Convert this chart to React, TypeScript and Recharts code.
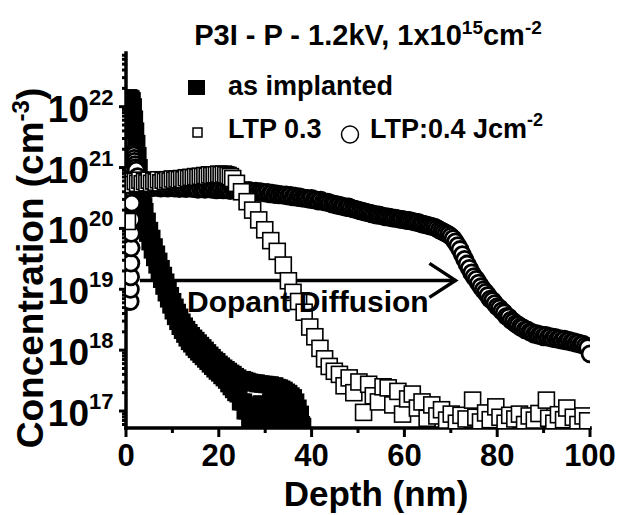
import React from 'react';
import { ScatterChart, Scatter, XAxis, YAxis, ReferenceLine, ReferenceDot } from 'recharts';

const FONT = '"Liberation Sans", Arial, Helvetica, sans-serif';
const INK = '#000';

// ---- SIMS phosphorus profiles: depth (nm) and concentration (cm^-3) ----

// as implanted
const implantedDepth = [
  0, 0.25, 0.5, 0.75, 1, 1.25, 1.5, 1.75, 2, 2.25,
  2.5, 2.75, 3, 3.25, 3.5, 3.75,
  4, 4.25, 4.5, 4.75, 5, 5.25, 5.5, 5.75, 6, 6.25, 6.5, 6.75, 7, 7.25, 7.5, 7.75,
  8, 8.25, 8.5, 8.75, 9, 9.25, 9.5, 9.75, 10, 10.25, 10.5, 10.75, 11, 11.25, 11.5, 11.75,
  12, 12.25, 12.5, 12.75, 13, 13.25, 13.5, 13.75, 14, 14.25, 14.5, 14.75, 15, 15.25, 15.5, 15.75,
  16, 16.25, 16.5, 16.75, 17, 17.25, 17.5, 17.75, 18, 18.25, 18.5, 18.75, 19, 19.25, 19.5, 19.75,
  20, 20.25, 20.5, 20.75, 21, 21.25, 21.5, 21.75, 22, 22.25, 22.5, 22.75, 23, 23.25, 23.5, 23.75,
  24, 24.25, 24.5, 24.75, 25, 25.25, 25.5, 25.75, 26, 26.25, 26.5, 26.75, 27, 27.25, 27.5, 27.75,
  28, 28.25, 28.5, 28.75, 29, 29.25, 29.5, 29.75, 30, 30.25, 30.5, 30.75, 31, 31.25, 31.5, 31.75,
  32, 32.25, 32.5, 32.75, 33, 33.25, 33.5, 33.75, 34, 34.25, 34.5, 34.75, 35, 35.25, 35.5, 35.75,
  36, 36.25, 36.5, 36.75, 37, 37.25, 37.5, 37.75, 38, 38.5,
];
const implantedConc = [
  1.32e22, 1.38e22, 1.41e22, 1.38e22, 1.35e22, 1.26e22, 1.0e22, 6.3e21, 4.0e21, 2.5e21,
  1.58e21, 1.0e21, 6.3e20, 4.2e20, 3.0e20, 2.35e20,
  1.9e20, 1.2e20, 1.32e20, 8.3e19, 9.3e19, 6.0e19, 6.9e19, 4.4e19, 5.0e19, 3.3e19, 3.8e19, 2.5e19, 2.9e19, 1.9e19, 2.2e19, 1.45e19,
  1.7e19, 1.12e19, 1.32e19, 8.7e18, 1.0e19, 6.9e18, 7.9e18, 5.5e18, 6.3e18, 4.4e18, 5.1e18, 3.55e18, 4.2e18, 2.95e18, 3.5e18, 2.45e18,
  2.9e18, 2.1e18, 2.5e18, 1.82e18, 2.2e18, 1.58e18, 1.95e18, 1.38e18, 1.74e18, 1.26e18, 1.58e18, 1.12e18, 1.45e18, 1.02e18, 1.32e18, 9.3e17,
  1.2e18, 8.5e17, 1.1e18, 7.8e17, 1.0e18, 7.1e17, 9.1e17, 6.5e17, 8.3e17, 5.9e17, 7.6e17, 5.4e17, 6.9e17, 4.9e17, 6.5e17, 4.5e17,
  5.9e17, 4.2e17, 5.5e17, 3.8e17, 5.1e17, 3.5e17, 4.8e17, 3.2e17, 4.5e17, 2.8e17, 4.2e17, 2.5e17, 4.0e17, 2.24e17, 3.7e17, 2.0e17,
  3.5e17, 1.9e17, 3.3e17, 1.41e17, 3.3e17, 1.41e17, 3.2e17, 1.0e17, 3.1e17, 1.0e17, 3.0e17, 7.1e16, 2.95e17, 1.26e17, 2.9e17, 6.3e16,
  2.9e17, 1.12e17, 2.8e17, 6.6e16, 2.8e17, 1.32e17, 2.75e17, 7.9e16, 2.75e17, 1.2e17, 2.7e17, 6.3e16, 2.7e17, 1.41e17, 2.6e17, 7.1e16,
  2.6e17, 1.12e17, 2.45e17, 6.3e16, 2.4e17, 1.26e17, 2.3e17, 7.1e16, 2.2e17, 1.12e17, 2.05e17, 6.3e16, 1.95e17, 1.0e17, 1.78e17, 6.6e16,
  1.66e17, 8.9e16, 1.41e17, 6.3e16, 1.12e17, 7.9e16, 8.9e16, 6.0e16, 5.6e16, 4.0e16,
];

// LTP 0.3 J/cm2
const ltp03Depth = [
  0.3, 0.5, 1, 1.5, 2, 2.5, 3, 3.5, 4, 4.5,
  5, 5.5, 6, 6.5, 7, 7.5, 8, 8.5, 9, 9.5,
  10, 10.5, 11, 11.5, 12, 12.5, 13, 13.5, 14, 14.5,
  15, 15.5, 16, 16.5, 17, 17.5, 18, 18.5, 19, 19.5,
  20, 20.5, 21, 21.5, 22, 22.5, 23, 23.8, 24.9, 26.1,
  27.3, 28.6, 29.9, 31.2, 32.6, 33.9, 35, 36, 37.2, 38.4,
  39.6, 40.7, 41.8, 42.8, 43.8, 44.9, 46, 47, 48.1, 49.1,
  50.2, 51.2, 52.3, 53.3, 54.4, 55.4, 56.5, 57.5, 58.6, 59.6,
  60.7, 61.7, 62.8, 63.8, 64.9, 65.9, 67, 68, 69.1, 70.1,
  71.2, 72.2, 73.3, 74.7, 75.4, 76.4, 77.5, 78.5, 79.7, 80.6,
  81.7, 82.7, 83.8, 84.8, 85.9, 86.9, 88, 89, 90.6, 91.1,
  92.2, 93.2, 94.3, 95, 96.4, 97.4, 98.5, 99.5,
];
const ltp03Conc = [
  1.3e20, 5.5e20, 6.0e20, 5.25e20, 5.9e20, 5.5e20, 6.2e20, 5.4e20, 5.9e20, 5.6e20,
  6.2e20, 5.5e20, 6.0e20, 5.75e20, 6.3e20, 5.6e20, 6.2e20, 5.9e20, 6.3e20, 6.0e20,
  6.5e20, 6.2e20, 6.5e20, 6.3e20, 6.6e20, 6.3e20, 6.8e20, 6.6e20, 6.9e20, 6.8e20,
  7.1e20, 6.9e20, 7.2e20, 7.1e20, 7.4e20, 7.2e20, 7.6e20, 7.4e20, 7.6e20, 7.6e20,
  7.8e20, 7.6e20, 7.8e20, 7.6e20, 7.4e20, 7.1e20, 6.6e20, 5.5e20, 4.0e20, 2.75e20,
  2.0e20, 1.38e20, 9.5e19, 6.3e19, 4.2e19, 2.5e19, 1.38e19, 8.9e18, 6.3e18, 4.2e18,
  2.4e18, 1.66e18, 1.07e18, 7.2e17, 5.4e17, 4.5e17, 4.0e17, 2.6e17, 3.5e17, 2.0e17,
  3.0e17, 9.5e16, 2.75e17, 1.78e17, 1.41e17, 2.5e17, 2.4e17, 1.26e17, 2.1e17, 8.9e16,
  1.58e17, 1.9e17, 1.12e17, 1.41e17, 7.6e16, 1.26e17, 8.3e16, 1.05e17, 7.1e16, 8.9e16,
  6.3e16, 8.5e16, 7.4e16, 1.51e17, 7.9e16, 6.6e16, 9.3e16, 7.2e16, 1.17e17, 7.9e16,
  6.3e16, 8.5e16, 7.4e16, 8.9e16, 6.0e16, 8.3e16, 7.1e16, 9.1e16, 1.51e17, 7.6e16,
  6.3e16, 8.7e16, 7.2e16, 1.12e17, 7.9e16, 6.0e16, 8.3e16, 6.9e16,
];

// LTP 0.4 J/cm2
const ltp04Depth = [
  0.9, 0.95, 1, 1.05, 1.1, 1.15, 1.2, 1.25, 1.35, 1.45, 1.55, 1.65, 1.75, 1.85, 1.95, 2.05, 2.2, 2.5,
  3, 3.5, 4, 4.5, 5, 5.5, 6, 6.5, 7, 7.5,
  8, 8.5, 9, 9.5, 10, 10.5, 11, 11.5, 12, 12.5,
  13, 13.5, 14, 14.5, 15, 15.5, 16, 16.5, 17, 17.5,
  18, 18.5, 19, 19.5, 20, 20.5, 21, 21.5, 22, 22.5,
  23, 23.5, 24, 24.5, 25, 25.5, 26, 26.5, 27, 27.5,
  28, 28.5, 29, 29.5, 30, 30.5, 31, 31.5, 32, 32.5,
  33, 33.5, 34, 34.5, 35, 35.5, 36, 36.5, 37, 37.5,
  38, 38.5, 39, 39.5, 40, 40.5, 41, 41.5, 42, 42.5,
  43, 43.5, 44, 44.5, 45, 45.5, 46, 46.5, 47, 47.5,
  48, 48.5, 49, 49.5, 50, 50.5, 51, 51.5, 52, 52.5,
  53, 53.5, 54, 54.5, 55, 55.5, 56, 56.5, 57, 57.5,
  58, 58.5, 59, 59.5, 60, 60.5, 61, 61.5, 62, 62.5,
  63, 63.5, 64, 64.5, 65, 65.5, 66, 66.5, 67, 67.5,
  68, 68.5, 69, 69.5, 70, 70.5, 71, 71.5, 72, 72.5,
  73, 73.5, 74, 74.5, 75, 75.5, 76, 76.5, 77, 77.5,
  78, 78.5, 79, 79.5, 80, 80.5, 81, 81.5, 82, 82.5,
  83, 83.5, 84, 84.5, 85, 85.5, 86, 86.5, 87, 87.5,
  88, 88.5, 89, 89.5, 90, 90.5, 91, 91.5, 92, 92.5,
  93, 93.5, 94, 94.5, 95, 95.5, 96, 96.5, 97, 97.5,
  98, 98.5, 99, 99.5, 100,
];
const ltp04Conc = [
  6.3e18, 1.0e19, 1.6e19, 2.7e19, 4.8e19, 8.3e19, 1.4e20, 2.6e20, 5.0e20, 1.0e21, 1.74e21, 1.6e21, 1.41e21, 1.26e21, 1.12e21, 1.0e21, 9.1e20, 7.1e20,
  4.8e20, 4.7e20, 4.9e20, 4.8e20, 4.6e20, 4.8e20, 4.7e20, 4.9e20, 4.7e20, 4.6e20,
  4.8e20, 4.7e20, 4.6e20, 4.8e20, 4.7e20, 4.6e20, 4.7e20, 4.5e20, 4.7e20, 4.6e20,
  4.5e20, 4.7e20, 4.6e20, 4.5e20, 4.6e20, 4.4e20, 4.6e20, 4.5e20, 4.4e20, 4.6e20,
  4.5e20, 4.4e20, 4.5e20, 4.3e20, 4.4e20, 4.5e20, 4.3e20, 4.4e20, 4.3e20, 4.2e20,
  4.4e20, 4.3e20, 4.2e20, 4.3e20, 4.1e20, 4.2e20, 4.1e20, 4.2e20, 4.1e20, 4.0e20,
  4.1e20, 3.9e20, 4.0e20, 3.9e20, 3.8e20, 3.9e20, 3.7e20, 3.8e20, 3.6e20, 3.7e20,
  3.55e20, 3.6e20, 3.5e20, 3.55e20, 3.4e20, 3.5e20, 3.3e20, 3.4e20, 3.2e20, 3.3e20,
  3.15e20, 3.15e20, 3.1e20, 3.0e20, 3.1e20, 2.95e20, 2.95e20, 2.8e20, 2.9e20, 2.75e20,
  2.7e20, 2.7e20, 2.6e20, 2.5e20, 2.5e20, 2.4e20, 2.4e20, 2.3e20, 2.3e20, 2.2e20,
  2.25e20, 2.15e20, 2.1e20, 2.05e20, 2.0e20, 1.95e20, 1.9e20, 1.86e20, 1.82e20, 1.78e20,
  1.74e20, 1.7e20, 1.66e20, 1.66e20, 1.62e20, 1.58e20, 1.55e20, 1.55e20, 1.51e20, 1.48e20,
  1.48e20, 1.45e20, 1.41e20, 1.41e20, 1.38e20, 1.35e20, 1.35e20, 1.32e20, 1.29e20, 1.26e20,
  1.26e20, 1.2e20, 1.17e20, 1.15e20, 1.12e20, 1.1e20, 1.07e20, 1.05e20, 1.0e20, 9.5e19,
  9.1e19, 8.7e19, 8.3e19, 7.9e19, 7.4e19, 6.8e19, 6.0e19, 5.2e19, 4.5e19, 3.7e19,
  3.1e19, 2.6e19, 2.2e19, 1.86e19, 1.62e19, 1.45e19, 1.26e19, 1.1e19, 9.8e18, 8.9e18,
  7.9e18, 6.9e18, 6.5e18, 5.8e18, 5.2e18, 4.9e18, 4.4e18, 4.1e18, 3.6e18, 3.5e18,
  3.1e18, 2.95e18, 2.7e18, 2.6e18, 2.4e18, 2.35e18, 2.15e18, 2.15e18, 2.0e18, 1.95e18,
  1.82e18, 1.86e18, 1.74e18, 1.78e18, 1.66e18, 1.74e18, 1.62e18, 1.66e18, 1.55e18, 1.62e18,
  1.51e18, 1.55e18, 1.45e18, 1.51e18, 1.41e18, 1.45e18, 1.35e18, 1.38e18, 1.29e18, 1.32e18,
  1.23e18, 1.26e18, 1.17e18, 1.1e18, 8.7e17,
];

// ---- axes ----
const depthDomain = [0, 100];
const concDomain = [5.26e16, 7.62e22];
const depthTicks = [0, 10, 20, 30, 40, 50, 60, 70, 80, 90, 100];
const concTicks = [
  6e16, 7e16, 8e16, 9e16,
  1e17, 2e17, 3e17, 4e17, 5e17, 6e17, 7e17, 8e17, 9e17,
  1e18, 2e18, 3e18, 4e18, 5e18, 6e18, 7e18, 8e18, 9e18,
  1e19, 2e19, 3e19, 4e19, 5e19, 6e19, 7e19, 8e19, 9e19,
  1e20, 2e20, 3e20, 4e20, 5e20, 6e20, 7e20, 8e20, 9e20,
  1e21, 2e21, 3e21, 4e21, 5e21, 6e21, 7e21, 8e21, 9e21,
  1e22, 2e22, 3e22, 4e22, 5e22, 6e22, 7e22,
];

// "Dopant Diffusion" arrow, in data units
const arrowFrom = 3;
const arrowTo = 71;
const arrowLevel = 1.4e19;

type Pt = { depth: number; conc: number };
const pair = (d: number[], c: number[]): Pt[] => d.map((depth, i) => ({ depth, conc: c[i] }));

const implanted = pair(implantedDepth, implantedConc);
const ltp03 = pair(ltp03Depth, ltp03Conc);
const ltp04 = pair(ltp04Depth, ltp04Conc);

const FilledSquare = (p: any) =>
  p.cx == null ? <g /> : <rect x={p.cx - 9} y={p.cy - 8.5} width={18} height={17} fill={INK} />;
const OpenSquare = (p: any) =>
  p.cx == null ? <g /> : (
    <rect x={p.cx - 8} y={p.cy - 8} width={16} height={16} fill="#fff" stroke={INK} strokeWidth={1.6} />
  );
const OpenCircle = (p: any) =>
  p.cx == null ? <g /> : <circle cx={p.cx} cy={p.cy} r={8} fill="#fff" stroke={INK} strokeWidth={2.8} />;

const ArrowHead = (p: any) =>
  p.cx == null ? <g /> : (
    <path
      d={`M${p.cx - 26},${p.cy - 17} L${p.cx},${p.cy} L${p.cx - 26},${p.cy + 17}`}
      fill="none"
      stroke={INK}
      strokeWidth={3.5}
      strokeLinejoin="miter"
    />
  );

const BottomTick = (props: any) => {
  const { x, y, payload } = props;
  const v = payload.value as number;
  const major = v % 20 === 0;
  return (
    <g>
      <line x1={x} x2={x} y1={y} y2={y + (major ? 9 : 5)} stroke={INK} strokeWidth={3} />
      {major && (
        <text x={x} y={y + 38} textAnchor="middle" fontFamily={FONT} fontWeight="bold" fontSize={31} fill={INK}>
          {v}
        </text>
      )}
    </g>
  );
};

const TopTick = (props: any) => {
  const { x, y, payload } = props;
  const major = (payload.value as number) % 20 === 0;
  return <line x1={x} x2={x} y1={y} y2={y + (major ? 6 : 4)} stroke={INK} strokeWidth={3} />;
};

const LeftTick = (props: any) => {
  const { x, y, payload } = props;
  const lg = Math.log10(payload.value as number);
  const exp = Math.round(lg);
  const major = Math.abs(lg - exp) < 1e-6;
  return (
    <g>
      <line x1={x} x2={x - (major ? 7 : 4)} y1={y} y2={y} stroke={INK} strokeWidth={3} />
      {major && (
        <g fontFamily={FONT} fontWeight="bold" fill={INK}>
          <text x={89} y={y + 15} textAnchor="end" fontSize={37}>10</text>
          <text x={89} y={y - 2} textAnchor="start" fontSize={22}>{exp}</text>
        </g>
      )}
    </g>
  );
};

const frame = { stroke: INK, strokeWidth: 3.5, strokeLinecap: 'square' as const };

export default function App() {
  return (
    <div style={{ position: 'absolute', left: 0, top: 0, width: 619, height: 515, background: '#fff' }}>
      <ScatterChart width={619} height={515} margin={{ top: 53, right: 29, bottom: 0, left: 0 }}>
        <XAxis
          xAxisId={0}
          dataKey="depth"
          type="number"
          domain={depthDomain}
          ticks={depthTicks}
          interval={0}
          allowDataOverflow
          height={87}
          tickSize={0}
          tickMargin={0}
          tickLine={false}
          axisLine={frame}
          tick={BottomTick}
        />
        <XAxis
          xAxisId="top"
          orientation="top"
          type="number"
          domain={depthDomain}
          ticks={depthTicks}
          interval={0}
          allowDataOverflow
          height={0}
          tickSize={0}
          tickMargin={0}
          tickLine={false}
          axisLine={frame}
          tick={TopTick}
        />
        <YAxis
          yAxisId={0}
          dataKey="conc"
          type="number"
          scale="log"
          domain={concDomain}
          ticks={concTicks}
          interval={0}
          allowDataOverflow
          width={126}
          tickSize={0}
          tickMargin={0}
          tickLine={false}
          axisLine={frame}
          tick={LeftTick}
        />
        <YAxis
          yAxisId="right"
          orientation="right"
          type="number"
          domain={[0, 1]}
          allowDataOverflow
          width={0}
          tick={false}
          tickLine={false}
          axisLine={frame}
        />
        <Scatter name="as implanted" data={implanted} shape={FilledSquare} isAnimationActive={false} />
        <Scatter name="LTP:0.4" data={ltp04} shape={OpenCircle} isAnimationActive={false} />
        <Scatter name="LTP 0.3" data={ltp03} shape={OpenSquare} isAnimationActive={false} />
        <ReferenceLine
          segment={[
            { x: arrowFrom, y: arrowLevel },
            { x: arrowTo, y: arrowLevel },
          ]}
          stroke={INK}
          strokeWidth={3.5}
        />
        <ReferenceDot x={arrowTo} y={arrowLevel} shape={ArrowHead} />
      </ScatterChart>

      <svg
        width={619}
        height={515}
        style={{ position: 'absolute', left: 0, top: 0, pointerEvents: 'none' }}
        fontFamily={FONT}
        fontWeight="bold"
        fill={INK}
      >
        <text x={368} y={45} textAnchor="middle" fontSize={29}>
          P3I - P - 1.2kV, 1x10<tspan fontSize={19} dy={-11}>15</tspan>
          <tspan dy={11}>cm</tspan>
          <tspan fontSize={19} dy={-11}>-2</tspan>
        </text>

        <rect x={188} y={80} width={17} height={15} fill={INK} />
        <text x={228} y={95} fontSize={27}>as implanted</text>
        <rect x={193} y={128} width={9} height={9} fill="#fff" stroke={INK} strokeWidth={1.5} />
        <text x={228} y={138} fontSize={27}>LTP 0.3</text>
        <circle cx={350} cy={134.5} r={8.5} fill="#fff" stroke={INK} strokeWidth={1.5} />
        <text x={370} y={138} fontSize={27}>
          LTP:0.4 Jcm<tspan dy={-12} fontSize={18}>-2</tspan>
        </text>

        <text x={187} y={312} fontSize={30}>Dopant Diffusion</text>

        <text transform="rotate(-90)" x={-268} y={43} textAnchor="middle" fontSize={37}>
          Concentration (cm<tspan dy={-14} fontSize={24}>-3</tspan>
          <tspan dy={14}>)</tspan>
        </text>
        <text x={376} y={506} textAnchor="middle" fontSize={35}>Depth (nm)</text>
      </svg>
    </div>
  );
}
